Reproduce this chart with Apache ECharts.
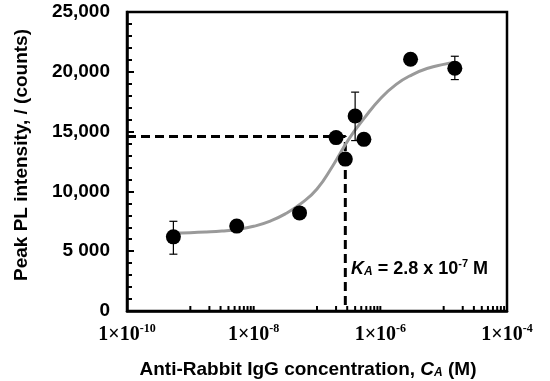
<!DOCTYPE html>
<html>
<head>
<meta charset="utf-8">
<script src="https://cdn.jsdelivr.net/npm/echarts@6/dist/echarts.min.js"></script>
<style>html,body{margin:0;padding:0;background:#fff;}#c{width:550px;height:381px;}</style>
</head>
<body>
<div id="c"></div>
<script>
// Measured points (concentration M, peak PL counts)
var concentration = [5.4e-10, 5.4e-9, 5.3e-8, 2.0e-7, 2.8e-7, 4.0e-7, 5.5e-7, 3.0e-6, 1.5e-5];
var plIntensity   = [6200, 7100, 8200, 14500, 12700, 16300, 14350, 21050, 20300];
// Error bars: [concentration, low, high]
var errConc = [5.4e-10, 4.0e-7, 1.5e-5];
var errLow  = [4750, 14250, 19350];
var errHigh = [7500, 18300, 21300];
// Fitted curve (quarter-decade readings)
var fitConc = [5.4e-10, 1e-9, 1.78e-9, 3.16e-9, 5.62e-9, 1e-8, 1.78e-8, 3.16e-8, 5.62e-8, 1e-7, 1.78e-7, 3.16e-7, 5.62e-7, 1e-6, 1.78e-6, 3.16e-6, 5.62e-6, 1e-5, 1.5e-5];
var fitPL   = [6530, 6550, 6600, 6680, 6820, 7080, 7500, 8120, 9000, 10200, 12150, 14350, 16150, 17750, 18950, 19750, 20300, 20620, 20780];
// Dashed guide at K_A
var kaConc = 2.8e-7;
var kaPL = 14600;
// Axis ticks / labels
var yTickValues = [0, 5000, 10000, 15000, 20000, 25000];
var yTickLabels = ['0', '5 000', '10,000', '15,000', '20,000', '25,000'];
var xLabelExp = [-10, -8, -6, -4];
var xMinorTicks = [
  1e-9, 2e-9, 3e-9, 4e-9, 5e-9, 6e-9, 7e-9, 8e-9, 9e-9, 1e-8,
  1e-7, 2e-7, 3e-7, 4e-7, 5e-7, 6e-7, 7e-7, 8e-7, 9e-7, 1e-6,
  1e-5, 2e-5, 3e-5, 4e-5, 5e-5, 6e-5, 7e-5, 8e-5, 9e-5, 1e-4
];

var chart = echarts.init(document.getElementById('c'), null, {renderer: 'canvas'});

var sans = '"Liberation Sans", Arial, sans-serif';
var serif = '"Liberation Serif", "Times New Roman", serif';

var option = {
  animation: false,
  backgroundColor: '#fff',
  grid: {left: 127, top: 12, right: 43, bottom: 70, show: true, borderColor: '#000', borderWidth: 2.5, backgroundColor: 'transparent'},
  xAxis: {
    type: 'log', logBase: 10, min: 1e-10, max: 1e-4, interval: 2,
    axisLine: {show: true, lineStyle: {color: '#000', width: 2.5}},
    axisTick: {show: false},
    minorTick: {show: false},
    splitLine: {show: false},
    axisLabel: {
      margin: 12,
      formatter: function (v) {
        var e = Math.round(Math.log10(v));
        if (xLabelExp.indexOf(e) < 0) return '';
        return '{b|1×10}{s|' + e + '}';
      },
      rich: {
        b: {fontFamily: serif, fontWeight: 'bold', fontSize: 20, color: '#000', lineHeight: 22, verticalAlign: 'bottom'},
        s: {fontFamily: serif, fontWeight: 'bold', fontSize: 12, color: '#000', lineHeight: 22, verticalAlign: 'top'}
      }
    }
  },
  yAxis: {
    type: 'value', min: 0, max: 25000, interval: 5000,
    axisLine: {show: true, lineStyle: {color: '#000', width: 2.5}},
    axisTick: {show: true, inside: true, length: 7, lineStyle: {color: '#000', width: 2}},
    minorTick: {show: true, splitNumber: 5, length: 5, lineStyle: {color: '#000', width: 2}},
    splitLine: {show: false},
    axisLabel: {
      margin: 17, color: '#000', fontFamily: sans, fontWeight: 'bold', fontSize: 19,
      formatter: function (v) {
        var i = yTickValues.indexOf(v);
        return i >= 0 ? yTickLabels[i] : '';
      }
    }
  },
  series: [
    {
      type: 'custom', name: 'xticks', z: 5, silent: true,
      data: xMinorTicks.map(function (v) { return [v, 0]; }),
      renderItem: function (params, api) {
        var p = api.coord([api.value(0), 0]);
        return {type: 'line', shape: {x1: p[0], y1: p[1], x2: p[0], y2: p[1] - 5}, style: {stroke: '#000', lineWidth: 2}};
      },
      clip: false
    },
    {
      type: 'line', name: 'guide', z: 2, silent: true,
      data: [[1e-10, kaPL], [kaConc, kaPL], [kaConc, 0]],
      symbol: 'none',
      lineStyle: {color: '#000', width: 3, type: [9, 5]}
    },
    {
      type: 'line', name: 'fit', z: 3, silent: true,
      data: fitConc.map(function (c, i) { return [c, fitPL[i]]; }),
      smooth: 0.5, symbol: 'none',
      lineStyle: {color: '#9a9a9a', width: 3}
    },
    {
      type: 'custom', name: 'err', z: 4, silent: true,
      data: errConc.map(function (c, i) { return [c, errLow[i], errHigh[i]]; }),
      renderItem: function (params, api) {
        var lo = api.coord([api.value(0), api.value(1)]);
        var hi = api.coord([api.value(0), api.value(2)]);
        var w = 4;
        var st = {stroke: '#000', lineWidth: 1.2};
        return {type: 'group', children: [
          {type: 'line', shape: {x1: lo[0], y1: lo[1], x2: hi[0], y2: hi[1]}, style: st},
          {type: 'line', shape: {x1: lo[0] - w, y1: lo[1], x2: lo[0] + w, y2: lo[1]}, style: st},
          {type: 'line', shape: {x1: hi[0] - w, y1: hi[1], x2: hi[0] + w, y2: hi[1]}, style: st}
        ]};
      }
    },
    {
      type: 'scatter', name: 'data', z: 6,
      data: concentration.map(function (c, i) { return [c, plIntensity[i]]; }),
      symbol: 'circle', symbolSize: 15,
      itemStyle: {color: '#000', opacity: 1}
    }
  ],
  graphic: [
    {
      type: 'text', x: 22, y: 155, rotation: Math.PI / 2, z: 10,
      style: {
        text: 'Peak PL intensity, / (counts)',
        fontFamily: sans, fontWeight: 'bold', fontSize: 19, fill: '#000',
        align: 'center', verticalAlign: 'middle'
      }
    },
    {
      type: 'text', x: 308, y: 368, z: 10,
      style: {
        text: '{t|Anti-Rabbit IgG concentration, }{i|C}{is|A}{t| (M)}',
        align: 'center', verticalAlign: 'middle',
        rich: {
          t: {fontFamily: sans, fontWeight: 'bold', fontSize: 19, fill: '#000', lineHeight: 22, verticalAlign: 'bottom'},
          i: {fontFamily: sans, fontWeight: 'bold', fontStyle: 'italic', fontSize: 19, fill: '#000', lineHeight: 22, verticalAlign: 'bottom'},
          is: {fontFamily: sans, fontWeight: 'bold', fontStyle: 'italic', fontSize: 12, fill: '#000', lineHeight: 22, verticalAlign: 'bottom'}
        }
      }
    },
    {
      type: 'text', x: 351, y: 268, z: 10,
      style: {
        text: '{i|K}{is|A}{t| = 2.8 x 10}{s|-7}{t| M}',
        align: 'left', verticalAlign: 'middle',
        rich: {
          t: {fontFamily: sans, fontWeight: 'bold', fontSize: 18, fill: '#000', lineHeight: 20, verticalAlign: 'bottom'},
          i: {fontFamily: sans, fontWeight: 'bold', fontStyle: 'italic', fontSize: 18, fill: '#000', lineHeight: 20, verticalAlign: 'bottom'},
          is: {fontFamily: sans, fontWeight: 'bold', fontStyle: 'italic', fontSize: 12, fill: '#000', lineHeight: 20, verticalAlign: 'bottom'},
          s: {fontFamily: sans, fontWeight: 'bold', fontSize: 11, fill: '#000', lineHeight: 20, verticalAlign: 'top'}
        }
      }
    }
  ]
};
chart.setOption(option);
</script>
</body>
</html>
